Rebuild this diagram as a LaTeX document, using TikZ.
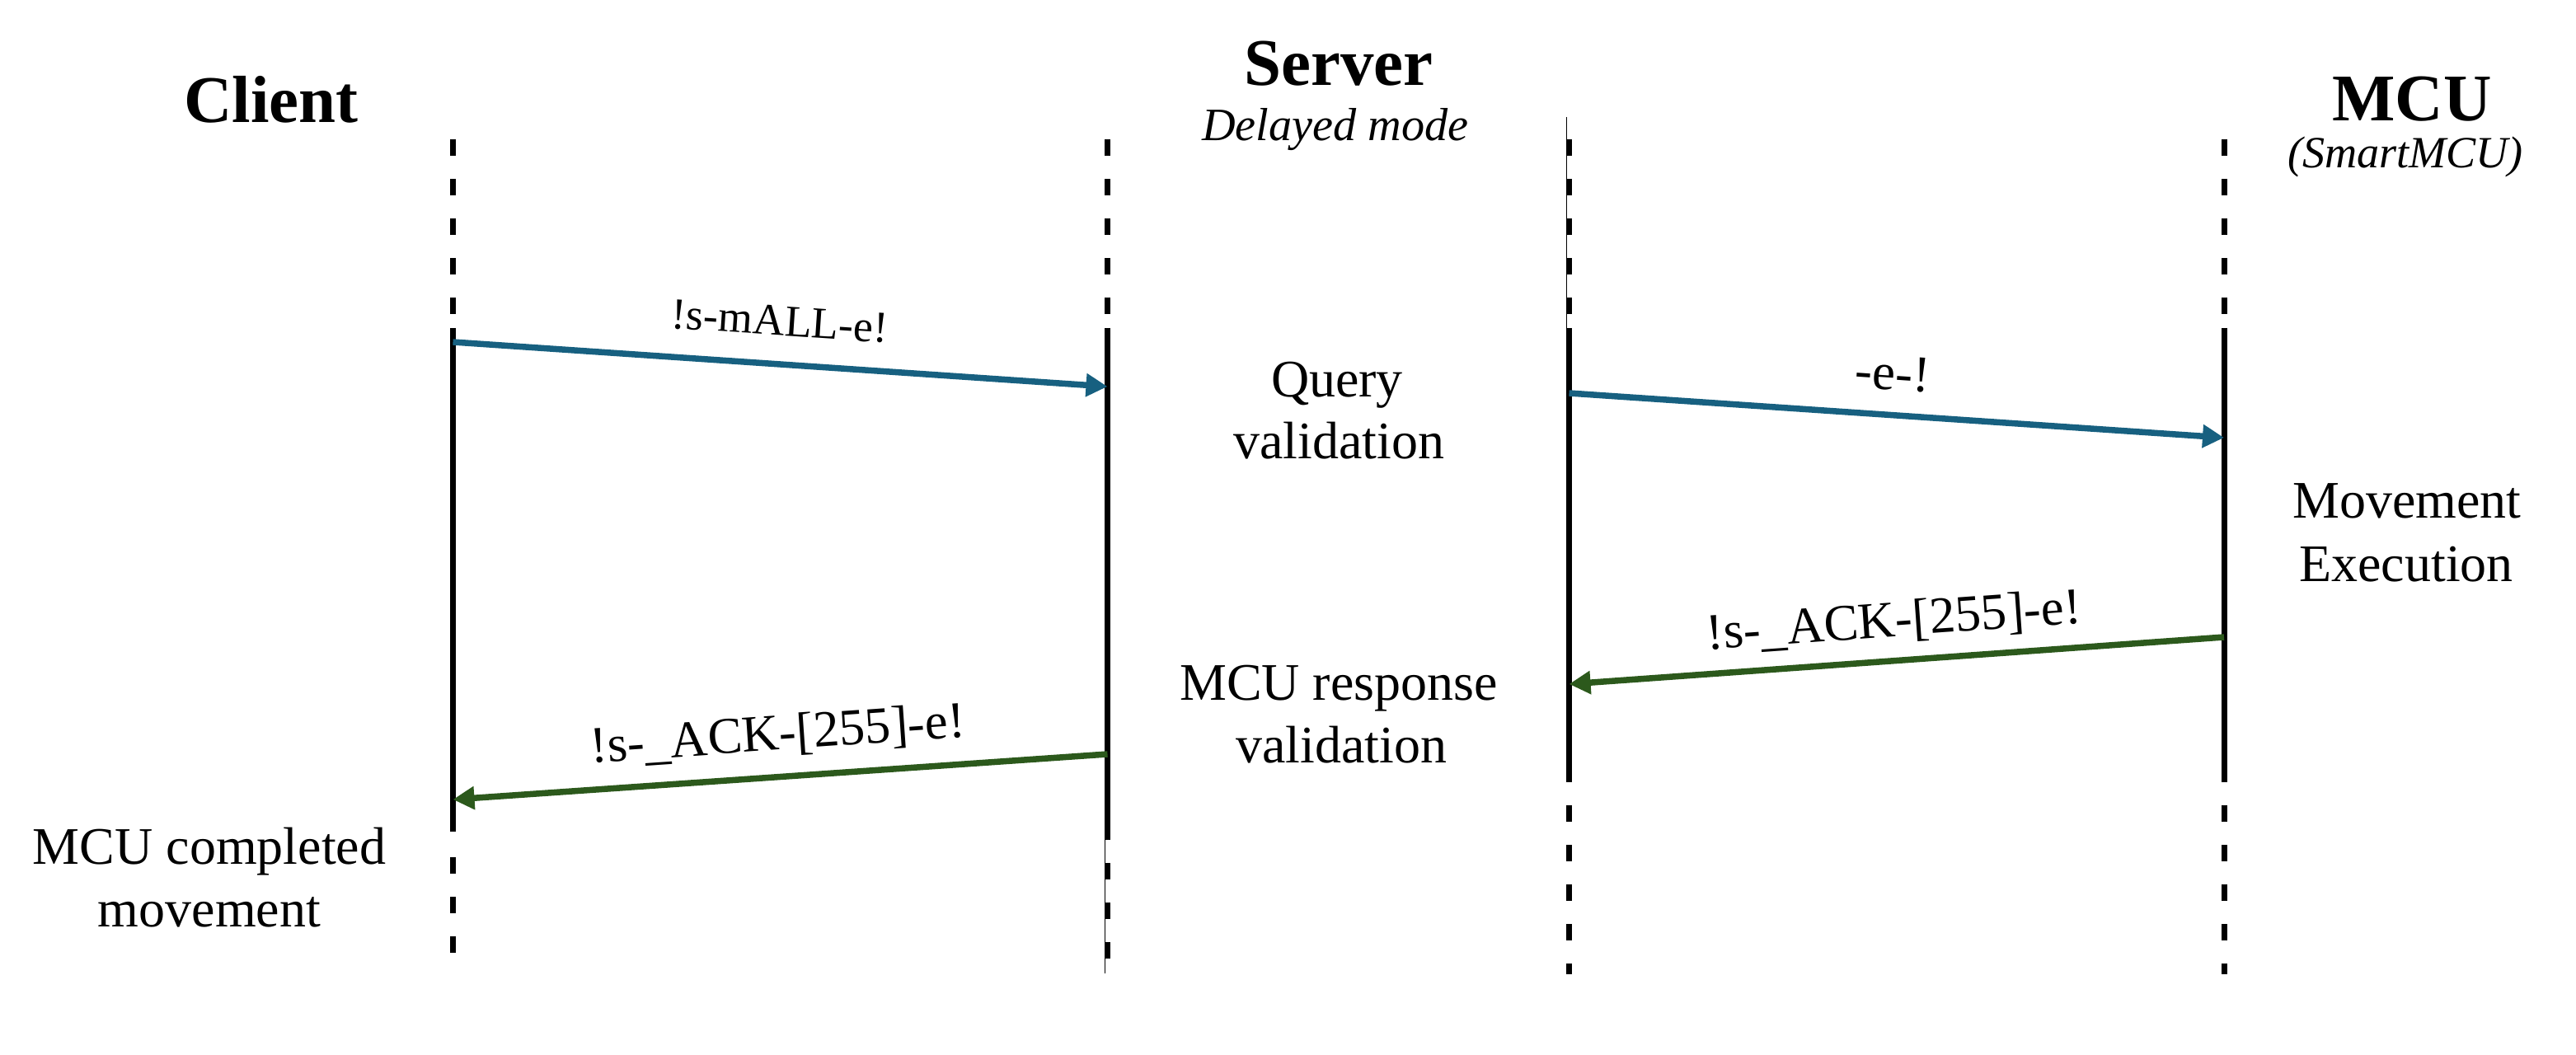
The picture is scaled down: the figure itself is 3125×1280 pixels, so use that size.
\documentclass[tikz,border=0pt]{standalone}
\usepackage{fontspec}
\setmainfont{Liberation Serif}
\usetikzlibrary{arrows.meta}
\definecolor{msgblue}{RGB}{23,96,128}
\definecolor{msggreen}{RGB}{44,89,28}
\begin{document}
\begin{tikzpicture}[x=0.01cm,y=-0.01cm,
  lifesolid/.style={line width=0.07cm, black},
  lifedash/.style={line width=0.07cm, black, dash pattern=on 0.2cm off 0.28cm},
  lifethin/.style={line width=0.012cm, black},
  msgarrow/.style={line width=0.075cm, -{Triangle[length=0.26cm,width=0.27cm]}},
  title/.style={font=\bfseries\fontsize{23}{27}\selectfont, anchor=base, inner sep=0pt},
  subtitle/.style={font=\itshape\fontsize{16}{19}\selectfont, anchor=base, inner sep=0pt},
  subtitlesm/.style={font=\itshape\fontsize{15.4}{18}\selectfont, anchor=base, inner sep=0pt},
  note/.style={font=\fontsize{18.2}{22}\selectfont, anchor=base, inner sep=0pt},
  msgbig/.style={font=\fontsize{17.8}{21}\selectfont, anchor=base, inner sep=0pt},
  msgsmall/.style={font=\fontsize{15.3}{18}\selectfont, anchor=base, inner sep=0pt}
]
\useasboundingbox (0,0) rectangle (3125,1280);

% ---------- lifeline coordinates ----------
% Client
\coordinate (cTop) at (549.5,169);
\coordinate (cTopEnd) at (549.5,381);
\coordinate (cSolA) at (549.5,398);
\coordinate (cSolB) at (549.5,1009);
\coordinate (cBot) at (549.5,1040);
\coordinate (cBotEnd) at (549.5,1156);
% Server (left)
\coordinate (sTop) at (1343.5,169);
\coordinate (sTopEnd) at (1343.5,381);
\coordinate (sSolA) at (1343.5,398);
\coordinate (sSolB) at (1343.5,1019);
\coordinate (sBot) at (1343.5,1047);
\coordinate (sBotEnd) at (1343.5,1163);
\coordinate (sThinA) at (1340.5,1019);
\coordinate (sThinB) at (1340.5,1181);
% Server (right)
\coordinate (rTop) at (1903.5,169);
\coordinate (rTopEnd) at (1903.5,381);
\coordinate (rSolA) at (1903.5,398);
\coordinate (rSolB) at (1903.5,949);
\coordinate (rBot) at (1903.5,977);
\coordinate (rBotEnd) at (1903.5,1182);
\coordinate (rThinA) at (1900.5,142);
\coordinate (rThinB) at (1900.5,398);
% MCU
\coordinate (mTop) at (2698,169);
\coordinate (mTopEnd) at (2698,381);
\coordinate (mSolA) at (2698,398);
\coordinate (mSolB) at (2698,949);
\coordinate (mBot) at (2698,977);
\coordinate (mBotEnd) at (2698,1182);

% ---------- lifelines ----------
\draw[lifedash] (cTop) -- (cTopEnd);
\draw[lifesolid] (cSolA) -- (cSolB);
\draw[lifedash] (cBot) -- (cBotEnd);

\draw[lifedash] (sTop) -- (sTopEnd);
\draw[lifesolid] (sSolA) -- (sSolB);
\draw[lifedash] (sBot) -- (sBotEnd);
\draw[lifethin] (sThinA) -- (sThinB);

\draw[lifethin] (rThinA) -- (rThinB);
\draw[lifedash] (rTop) -- (rTopEnd);
\draw[lifesolid] (rSolA) -- (rSolB);
\draw[lifedash] (rBot) -- (rBotEnd);

\draw[lifedash] (mTop) -- (mTopEnd);
\draw[lifesolid] (mSolA) -- (mSolB);
\draw[lifedash] (mBot) -- (mBotEnd);

% ---------- headers ----------
\node[title] (tClient) at (329,149) {Client};
\node[title] (tServer) at (1624,104) {Server};
\node[subtitle] (tDelayed) at (1620,171) {Delayed mode};
\node[title] (tMCU) at (2926,147) {MCU};
\node[subtitlesm] (tSmart) at (2918,204) {(SmartMCU)};

% ---------- message endpoints ----------
\coordinate (a1s) at (549.5,415);
\coordinate (a1e) at (1343.5,469);
\coordinate (a2s) at (1903.5,477);
\coordinate (a2e) at (2698,531);
\coordinate (a3s) at (2698,773);
\coordinate (a3e) at (1903.5,830);
\coordinate (a4s) at (1343.5,915);
\coordinate (a4e) at (549.5,970);

\draw[msgarrow, msgblue] (a1s) -- (a1e);
\draw[msgarrow, msgblue] (a2s) -- (a2e);
\draw[msgarrow, msggreen] (a3s) -- (a3e);
\draw[msgarrow, msggreen] (a4s) -- (a4e);

% ---------- message labels ----------
\node[msgsmall, rotate=-3.9] (l1) at (945,407) {!s-mALL-e!};
\node[msgbig, rotate=-3.9] (l2) at (2295,473) {-e-!};
\node[msgbig, rotate=4.1] (l3) at (2299,772) {!s-\_ACK-[255]-e!};
\node[msgbig, rotate=3.96] (l4) at (945,910) {!s-\_ACK-[255]-e!};

% ---------- notes ----------
\node[note] (q1) at (1622,482) {Query};
\node[note] (q2) at (1624,557) {validation};
\node[note] (r1) at (1624,850) {MCU response};
\node[note] (r2) at (1627,926) {validation};
\node[note] (c1) at (254,1048) {MCU completed};
\node[note] (c2) at (254,1124) {movement};
\node[note] (e1) at (2920,629) {Movement};
\node[note] (e2) at (2919,706) {Execution};
\end{tikzpicture}
\end{document}
